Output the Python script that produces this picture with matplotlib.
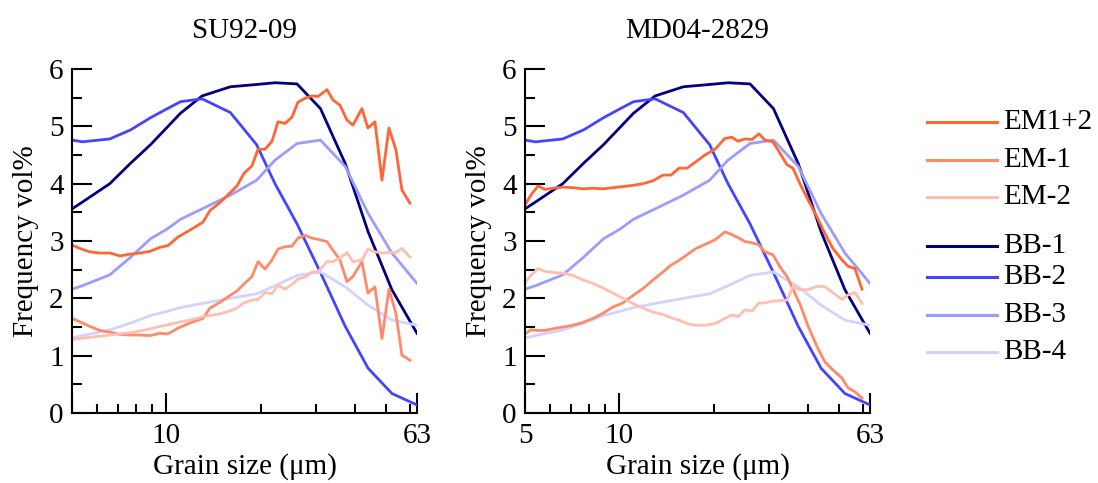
import matplotlib
matplotlib.use("Agg")
import matplotlib.pyplot as plt
from matplotlib.lines import Line2D
from matplotlib.ticker import FixedLocator, NullFormatter

plt.rcParams['font.family'] = ['Liberation Serif', 'DejaVu Serif']

# end-member grain sizes (um) shared by both cores
bb_x = [5.0, 5.4, 6.6, 7.7, 8.9, 10.0, 11.1, 13.0, 16.0, 19.4, 22.2, 26.1, 31.0,
        37.2, 44.0, 52.4, 63.0]
bb1 = [3.56, 3.68, 4.00, 4.36, 4.68, 4.97, 5.23, 5.53, 5.69, 5.73, 5.76, 5.74, 5.31,
       4.35, 3.16, 2.15, 1.39]
bb2 = [4.76, 4.73, 4.78, 4.94, 5.15, 5.30, 5.43, 5.48, 5.24, 4.68, 4.00, 3.30, 2.45,
       1.51, 0.78, 0.34, 0.14]
bb3 = [2.16, 2.22, 2.41, 2.72, 3.04, 3.20, 3.38, 3.56, 3.80, 4.06, 4.41, 4.70, 4.76,
       4.30, 3.48, 2.79, 2.26]
bb4 = [1.31, 1.35, 1.45, 1.57, 1.70, 1.77, 1.84, 1.91, 2.00, 2.08, 2.22, 2.40, 2.46,
       2.20, 1.88, 1.62, 1.53]

# SU92-09
su_x = [5.00, 5.30, 5.70, 6.14, 6.61, 7.11, 7.65, 8.24, 8.87, 9.54, 10.12, 10.89, 11.89,
        13.09, 13.77, 14.82, 15.95, 16.79, 17.68, 18.75, 19.60, 20.63, 21.72, 22.70,
        23.89, 25.15, 26.28, 27.67, 29.12, 30.44, 32.52, 33.98, 35.77, 37.66, 39.35,
        42.04, 43.93, 46.26, 48.70, 51.27, 53.96, 56.39, 59.8]
su_em12 = [2.93, 2.87, 2.81, 2.79, 2.79, 2.74, 2.77, 2.79, 2.82, 2.89, 2.92, 3.07, 3.19,
           3.33, 3.53, 3.67, 3.84, 3.96, 4.18, 4.31, 4.60, 4.60, 4.74, 5.08, 5.05, 5.16,
           5.42, 5.49, 5.53, 5.52, 5.64, 5.46, 5.37, 5.11, 5.02, 5.31, 4.97, 5.08, 4.06,
           4.97, 4.59, 3.89, 3.66]
su_em1 = [1.65, 1.59, 1.51, 1.44, 1.41, 1.37, 1.36, 1.36, 1.35, 1.39, 1.38, 1.48, 1.57,
          1.65, 1.83, 1.93, 2.05, 2.13, 2.25, 2.38, 2.64, 2.51, 2.67, 2.86, 2.90, 2.91,
          3.05, 3.10, 3.05, 3.03, 2.99, 2.84, 2.67, 2.29, 2.38, 2.64, 2.09, 2.20, 1.30,
          2.16, 1.74, 1.01, 0.92]
su_em2 = [1.28, 1.30, 1.32, 1.34, 1.36, 1.38, 1.40, 1.43, 1.47, 1.51, 1.54, 1.58, 1.62,
          1.68, 1.70, 1.73, 1.78, 1.83, 1.92, 1.97, 1.98, 2.10, 2.08, 2.23, 2.16, 2.24,
          2.34, 2.37, 2.46, 2.46, 2.64, 2.64, 2.70, 2.80, 2.64, 2.67, 2.86, 2.81, 2.79,
          2.80, 2.80, 2.87, 2.72]

# MD04-2829
md_x = [5.00, 5.22, 5.50, 5.79, 6.14, 6.61, 7.11, 7.65, 8.24, 8.87, 9.54, 10.27, 11.05,
        11.89, 12.80, 13.77, 14.61, 15.49, 16.43, 17.42, 18.75, 20.18, 21.72, 22.86,
        23.89, 25.15, 26.48, 27.87, 29.12, 30.89, 32.52, 34.24, 35.77, 37.66, 39.95,
        42.67, 45.25, 47.98, 51.27, 53.57, 56.39, 59.4]
md_em12 = [3.63, 3.80, 3.96, 3.90, 3.92, 3.94, 3.93, 3.91, 3.92, 3.91, 3.93, 3.95, 3.97,
           4.00, 4.05, 4.15, 4.15, 4.27, 4.27, 4.37, 4.50, 4.60, 4.79, 4.81, 4.74, 4.78,
           4.77, 4.87, 4.76, 4.73, 4.53, 4.33, 4.27, 4.00, 3.72, 3.42, 3.13, 2.87, 2.67,
           2.56, 2.52, 2.16]
md_em1 = [1.38, 1.45, 1.44, 1.44, 1.47, 1.50, 1.53, 1.58, 1.65, 1.74, 1.85, 1.92, 2.05,
          2.17, 2.32, 2.46, 2.58, 2.66, 2.76, 2.86, 2.94, 3.02, 3.16, 3.11, 3.06, 2.99,
          2.97, 2.93, 2.81, 2.76, 2.55, 2.38, 2.16, 1.90, 1.52, 1.16, 0.89, 0.75, 0.61,
          0.44, 0.37, 0.26]
md_em2 = [2.27, 2.40, 2.52, 2.47, 2.45, 2.44, 2.40, 2.32, 2.26, 2.18, 2.09, 2.00, 1.91,
          1.83, 1.76, 1.72, 1.66, 1.62, 1.56, 1.53, 1.53, 1.56, 1.65, 1.71, 1.68, 1.80,
          1.78, 1.92, 1.92, 1.95, 1.96, 1.97, 2.20, 2.15, 2.15, 2.21, 2.20, 2.10, 1.98,
          2.06, 2.10, 1.91]

titles = ["SU92-09", "MD04-2829"]
em_labels = ["EM1+2", "EM-1", "EM-2"]
bb_labels = ["BB-1", "BB-2", "BB-3", "BB-4"]
em_colors = ["#ff6633", "#ff8a6a", "#ffbfae"]
bb_colors = ["#000080", "#4444ff", "#9c9cff", "#d2d2ff"]

FS = 21
LW = 2.0

fig = plt.figure(figsize=(10.98, 4.83), dpi=100)
ax1 = fig.add_axes([72 / 1098, 70 / 483, 345 / 1098, 344 / 483])
ax2 = fig.add_axes([525 / 1098, 70 / 483, 345 / 1098, 344 / 483])

panels = [(ax1, su_x, [su_em12, su_em1, su_em2]),
          (ax2, md_x, [md_em12, md_em1, md_em2])]

for i, (ax, ex, ems) in enumerate(panels):
    for ys, c in zip([bb1, bb2, bb3, bb4], bb_colors):
        ax.plot(bb_x, ys, color=c, lw=LW, solid_joinstyle='round')
    for ys, c in zip(ems, em_colors):
        ax.plot(ex, ys, color=c, lw=LW, solid_joinstyle='round')

    ax.set_xscale('log')
    ax.set_xlim(5, 63)
    ax.set_ylim(0, 6)
    ax.xaxis.set_major_locator(FixedLocator([5, 10, 63]))
    ax.xaxis.set_minor_locator(FixedLocator([6, 7, 8, 9, 20, 30, 40, 50, 60]))
    ax.xaxis.set_minor_formatter(NullFormatter())
    if i == 0:
        ax.set_xticklabels(["", "10", "63"])
    else:
        ax.set_xticklabels(["5", "10", "63"])
    ax.set_yticks([0, 1, 2, 3, 4, 5, 6])
    ax.set_yticks([0.5, 1.5, 2.5, 3.5, 4.5, 5.5], minor=True)

    ax.tick_params(which='major', direction='in', length=14.5, width=1.5,
                   labelsize=FS)
    ax.tick_params(axis='x', which='major', pad=7)
    ax.tick_params(axis='y', which='major', pad=6)
    ax.tick_params(which='minor', direction='in', length=7, width=1.5)
    ax.tick_params(axis='x', which='minor', length=6.5)
    for s in ['top', 'right']:
        ax.spines[s].set_visible(False)
    for s in ['left', 'bottom']:
        ax.spines[s].set_linewidth(1.5)

    ax.set_title(titles[i], fontsize=FS, pad=22)
    ax.set_xlabel("Grain size (μm)", fontsize=FS, labelpad=3)
    ax.set_ylabel("Frequency vol%", fontsize=FS, labelpad=7)

# legend drawn by hand, two groups
rows = [122, 160, 197, 246, 277, 315, 352]
labels = em_labels + bb_labels
colors = em_colors + bb_colors
for y, lab, c in zip(rows, labels, colors):
    yy = 1 - y / 483
    fig.add_artist(Line2D([927 / 1098, 997 / 1098], [yy, yy], color=c, lw=2.2))
    fig.text(1003 / 1098, yy, lab, fontsize=FS, va='center', ha='left')

fig.savefig("out.png", dpi=100)
